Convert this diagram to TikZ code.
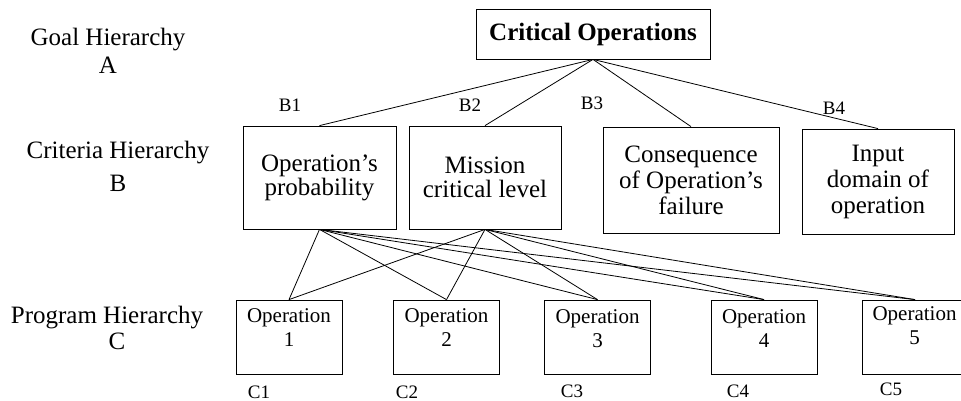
\documentclass[tikz,border=0pt]{standalone}
\usepackage{fontspec}
\setmainfont{Liberation Serif}
\usetikzlibrary{calc}
\begin{document}
\begin{tikzpicture}[x=1pt,y=-1pt,
  lab/.style={inner sep=0pt, anchor=base, font=\fontsize{25}{25}\selectfont},
  tag/.style={inner sep=0pt, anchor=base, font=\fontsize{19}{19}\selectfont},
  critbox/.style={draw, line width=0.8pt, inner sep=0pt, minimum width=234, minimum height=50, font=\fontsize{25}{25}\selectfont\bfseries},
  cbox/.style={draw, line width=0.8pt, inner sep=0pt, align=center, font=\fontsize{25}{25}\selectfont},
  opbox/.style={draw, line width=0.8pt, inner sep=0pt, minimum width=106, minimum height=74},
  optext/.style={inner sep=0pt, anchor=north, align=center, font=\fontsize{21}{24}\selectfont},
  link/.style={line width=0.8pt}]
\useasboundingbox (0,0) rectangle (961,401);
\clip (0,0) rectangle (961,401);

% left hierarchy labels
\node[lab] (goal) at (108,46) {Goal Hierarchy};
\node[lab] (la) at (108,74) {A};
\node[lab] (crith) at (118,158) {Criteria Hierarchy};
\node[lab] (lb) at (118,191) {B};
\node[lab] (progh) at (107,323) {Program Hierarchy};
\node[lab] (lc) at (117,349) {C};

% goal
\node[critbox] (crit) at (593,34) {Critical Operations};

% criteria
\node[cbox, minimum width=153, minimum height=103, font=\fontsize{25}{24}\selectfont] (b1) at (319.5,177.5) {Operation’s\\probability};
\node[cbox, minimum width=152, minimum height=103, font=\fontsize{25}{24}\selectfont] (b2) at (485,177.5) {Mission\\critical level};
\node[cbox, minimum width=176, minimum height=106, font=\fontsize{25}{26}\selectfont] (b3) at (691,180) {Consequence\\of Operation’s\\failure};
\node[cbox, minimum width=152, minimum height=105, font=\fontsize{25}{26}\selectfont] (b4) at (878,181.5) {Input\\domain of\\operation};

\node[tag] (tb1) at (290,112) {B1};
\node[tag] (tb2) at (470,112) {B2};
\node[tag] (tb3) at (592,110) {B3};
\node[tag] (tb4) at (834,115) {B4};

% operations
\node[opbox] (o1) at (289,337) {};
\node[opbox] (o2) at (446.5,337) {};
\node[opbox] (o3) at (597.5,337) {};
\node[opbox] (o4) at (764,337) {};
\node[opbox] (o5) at (915,337) {};

\node[optext] (t1) at (289,308.5) {Operation\\1};
\node[optext] (t2) at (446.5,308.5) {Operation\\2};
\node[optext] (t3) at (597.5,309) {Operation\\3};
\node[optext] (t4) at (764,309) {Operation\\4};
\node[optext] (t5) at (914.5,306) {Operation\\5};

\node[tag] (tc1) at (259,398) {C1};
\node[tag] (tc2) at (407,398) {C2};
\node[tag] (tc3) at (572,397) {C3};
\node[tag] (tc4) at (738,397) {C4};
\node[tag] (tc5) at (891,395) {C5};

% connectors
\foreach \b in {b1,b2,b3,b4} \draw[link] (crit.south) -- (\b.north);
\foreach \b in {b1,b2} \foreach \o in {o1,o2,o3,o4,o5} \draw[link] (\b.south) -- (\o.north);
\end{tikzpicture}
\end{document}
